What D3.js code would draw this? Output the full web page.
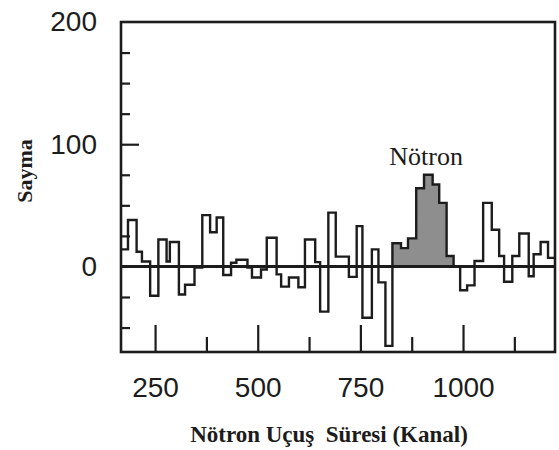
<!DOCTYPE html>
<html>
<head>
<meta charset="utf-8">
<script src="https://cdn.jsdelivr.net/npm/d3@7"></script>
<style>
  body { margin: 0; background: #fff; }
  svg { display: block; }
</style>
</head>
<body>
<script>
// bin edges (channel) and counts
var binEdges = [167, 184, 205, 218, 238, 258, 278, 286, 308, 323, 346, 365, 384, 400, 416,
    435, 448, 475, 486, 508, 522, 546, 557, 576, 599, 615, 640, 652, 672, 690,
    722, 741, 755, 778, 794, 811, 828, 849, 866, 886, 905, 926, 942, 960, 977,
    993, 1010, 1028, 1049, 1070, 1088, 1100, 1120, 1137, 1160, 1172, 1189, 1207, 1224];
var binCounts = [14, 38, 12, 4, -24, 22, 4, 20, -23, -15, -1, 42, 28, 40,
    -7, 3, 5.5, -1, -9, -2.5, 23.5, -6.5, -16.5, -9, -17, 22, 3.5, -37, 44,
    8, -8.5, 33, -42, 14, -13, -65, 19, 15, 23, 64, 75, 67, 52, 8.5,
    0, -19.5, -15.5, 4.4, 52, 30, 8.5, -12.5, 8.5, 27, -8, 10, 20, 7];
// neutron peak region (shaded)
var peakRange = [828, 977];

var xTickLabels = [250, 500, 750, 1000];
var xTicksLong = [250, 500, 750, 1000];
var xTicksShort = [375, 625, 875, 1125];
var yTickLabels = [0, 100, 200];
var yTicksAll = [-50, -25, 25, 50, 75, 100, 125, 150, 175];

var width = 559, height = 450;
var mLeft = 121, mRight = 555, mTop = 22, mBottom = 352;

var svg = d3.select("body").append("svg")
    .attr("width", width)
    .attr("height", height);

var x = d3.scaleLinear().domain([167, 1224]).range([mLeft, mRight]);
var y = d3.scaleLinear().domain([-70, 200]).range([mBottom, mTop]);

var ink = "#1c1c1c";

// step points
var pts = binCounts.map(function (v, i) { return [binEdges[i], v]; });
pts.push([binEdges[binEdges.length - 1], binCounts[binCounts.length - 1]]);

var peakPts = pts.filter(function (p) { return p[0] >= peakRange[0] && p[0] <= peakRange[1]; });
peakPts = peakPts.map(function (p, i) {
    // last point closes at the edge with previous value
    return p[0] === peakRange[1] ? [p[0], peakPts[i - 1][1]] : p;
});

// shaded neutron peak
var area = d3.area()
    .x(function (d) { return x(d[0]); })
    .y0(y(0))
    .y1(function (d) { return y(d[1]); })
    .curve(d3.curveStepAfter);

svg.append("path")
    .datum(peakPts)
    .attr("d", area)
    .attr("fill", "#8e8e8e");

// zero line
svg.append("line")
    .attr("x1", mLeft).attr("x2", mRight)
    .attr("y1", y(0)).attr("y2", y(0))
    .attr("stroke", ink)
    .attr("stroke-width", 3);

// histogram
var line = d3.line()
    .x(function (d) { return x(d[0]); })
    .y(function (d) { return y(d[1]); })
    .curve(d3.curveStepAfter);

svg.append("path")
    .datum(pts)
    .attr("d", line)
    .attr("fill", "none")
    .attr("stroke", ink)
    .attr("stroke-width", 2.4);

// y ticks (inward)
var yAx = svg.append("g")
    .attr("transform", "translate(" + mLeft + ",0)")
    .call(d3.axisLeft(y).tickValues(yTicksAll).tickSize(-9).tickFormat(""));
yAx.selectAll(".tick line")
    .attr("x2", function (d) { return d === 100 ? 18 : 9; })
    .attr("stroke", ink)
    .attr("stroke-width", 2.2);

var yLab = svg.append("g")
    .attr("transform", "translate(" + mLeft + ",0)")
    .call(d3.axisLeft(y).tickValues(yTickLabels).tickSize(0).tickPadding(24).tickFormat(d3.format("d")));
yLab.selectAll("text")
    .style("font-family", "'Liberation Sans', Arial, sans-serif")
    .style("font-size", "28px")
    .attr("fill", ink);

// x ticks (inward)
var xAxL = svg.append("g")
    .attr("transform", "translate(0," + mBottom + ")")
    .call(d3.axisBottom(x).tickValues(xTicksLong).tickSize(-27).tickFormat(""));
var xAxS = svg.append("g")
    .attr("transform", "translate(0," + mBottom + ")")
    .call(d3.axisBottom(x).tickValues(xTicksShort).tickSize(-15).tickFormat(""));
[xAxL, xAxS].forEach(function (g) {
    g.selectAll(".tick line").attr("stroke", ink).attr("stroke-width", 2.2);
});

var xLab = svg.append("g")
    .attr("transform", "translate(0," + mBottom + ")")
    .call(d3.axisBottom(x).tickValues(xTickLabels).tickSize(0).tickPadding(25).tickFormat(d3.format("d")));
xLab.selectAll("text")
    .style("font-family", "'Liberation Sans', Arial, sans-serif")
    .style("font-size", "28px")
    .attr("fill", ink);

[yAx, yLab, xAxL, xAxS, xLab].forEach(function (g) {
    g.select(".domain").remove();
});

// frame
svg.append("rect")
    .attr("x", mLeft).attr("y", mTop)
    .attr("width", mRight - mLeft).attr("height", mBottom - mTop)
    .attr("fill", "none")
    .attr("stroke", ink)
    .attr("stroke-width", 2.6);

// annotation
svg.append("text")
    .attr("x", x(910)).attr("y", y(83))
    .attr("text-anchor", "middle")
    .style("font-family", "'Liberation Serif', 'Times New Roman', serif")
    .style("font-size", "26px")
    .attr("fill", ink)
    .text("Nötron");

// axis titles
svg.append("text")
    .attr("x", 329).attr("y", 442)
    .attr("text-anchor", "middle")
    .style("font-family", "'Liberation Serif', 'Times New Roman', serif")
    .style("font-weight", "bold")
    .style("font-size", "23px")
    .style("white-space", "pre")
    .attr("fill", ink)
    .text("Nötron Uçuş  Süresi (Kanal)");

svg.append("text")
    .attr("transform", "translate(32,171) rotate(-90)")
    .attr("text-anchor", "middle")
    .style("font-family", "'Liberation Serif', 'Times New Roman', serif")
    .style("font-weight", "bold")
    .style("font-size", "22px")
    .attr("fill", ink)
    .text("Sayma");
</script>
</body>
</html>
